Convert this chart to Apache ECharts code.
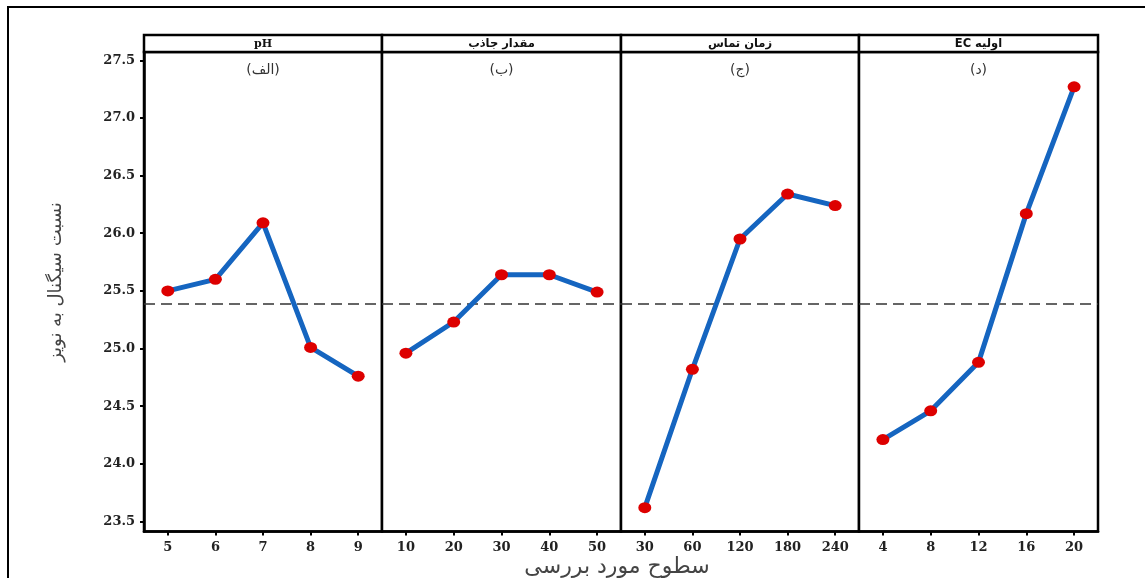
<!DOCTYPE html>
<html><head><meta charset="utf-8">
<script src="https://cdn.jsdelivr.net/npm/echarts@6/dist/echarts.min.js"></script>
<style>html,body{margin:0;padding:0;background:#fff}#c{width:1145px;height:578px}</style>
</head><body><div id="c"></div>
<script>
// ---- data ----
const phLevels = ['5','6','7','8','9'];
const adsorbentLevels = ['10','20','30','40','50'];
const timeLevels = ['30','60','120','180','240'];
const ecLevels = ['4','8','12','16','20'];
const phSN = [25.50, 25.60, 26.09, 25.01, 24.76];
const adsorbentSN = [24.96, 25.23, 25.64, 25.64, 25.49];
const timeSN = [23.62, 24.82, 25.95, 26.34, 26.24];
const ecSN = [24.21, 24.46, 24.88, 26.17, 27.27];
const yTicks = [23.5, 24.0, 24.5, 25.0, 25.5, 26.0, 26.5, 27.0, 27.5];
const stripTitles = ['pH', 'مقدار جاذب', 'زمان تماس', 'EC اولیه'];
const panelLetters = ['(الف)', '(ب)', '(ج)', '(د)'];
const yTitle = 'نسبت سیگنال به نویز';
const xTitle = 'سطوح مورد بررسی';

// ---- layout ----
const edges = [144, 382, 621, 859, 1098];
const gridTop = 52, gridBottomPx = 531.5, stripTop = 35;
const yMin = 23.413, yMax = 27.572;

const levelsList = [phLevels, adsorbentLevels, timeLevels, ecLevels];
const valuesList = [phSN, adsorbentSN, timeSN, ecSN];
const all = [].concat(...valuesList);
const grandMean = all.reduce((a, b) => a + b, 0) / all.length;

const serif = 'DejaVu Serif';
const arab = 'DejaVu Sans';

const grids = [], xAxes = [], yAxes = [], series = [], graphics = [];

graphics.push({type:'rect', shape:{x:8, y:7, width:1200, height:700},
  style:{fill:'none', stroke:'#000', lineWidth:2}, z:0});

for (let i = 0; i < 4; i++) {
  const left = edges[i], w = edges[i+1] - edges[i];
  grids.push({left:left, top:gridTop, width:w, height:gridBottomPx - gridTop,
    show:true, borderColor:'#000', borderWidth:2.5, backgroundColor:'#fff'});
  xAxes.push({type:'category', gridIndex:i, data:levelsList[i], boundaryGap:true,
    axisLine:{show:true, lineStyle:{color:'#000', width:2.5}},
    axisTick:{show:true, alignWithLabel:true, length:4, lineStyle:{color:'#000', width:2}},
    axisLabel:{color:'#222', fontFamily:serif, fontWeight:'bold', fontSize:13, margin:10},
    splitLine:{show:false}});
  yAxes.push({type:'value', gridIndex:i, min:yMin, max:yMax,
    axisLine:{show:i===0, lineStyle:{color:'#000', width:2.5}},
    axisTick:{show:i===0, length:4, lineStyle:{color:'#000', width:2}, customValues:yTicks},
    axisLabel:{show:i===0, customValues:yTicks, formatter:v => Number(v).toFixed(1),
      color:'#222', fontFamily:serif, fontWeight:'bold', fontSize:13, margin:9},
    splitLine:{show:false}});
  series.push({type:'line', xAxisIndex:i, yAxisIndex:i, data:valuesList[i],
    symbol:'circle', symbolSize:[13,11],
    lineStyle:{color:'#1565C0', width:5},
    itemStyle:{color:'#DD0000', borderWidth:0},
    z:3,
    markLine:{silent:true, symbol:'none', label:{show:false},
      lineStyle:{color:'#333', type:[11,6], width:1.5},
      data:[{yAxis:grandMean}], z:2}});
  graphics.push({type:'rect', shape:{x:left, y:stripTop, width:w, height:gridTop - stripTop},
    style:{fill:'#fff', stroke:'#000', lineWidth:2.5}, z:10});
  graphics.push({type:'text', x:left + w/2, y:(stripTop + gridTop)/2 + 0.5, z:11,
    style:{text:stripTitles[i], fill:'#111', align:'center', verticalAlign:'middle',
      font:(i===0 ? 'bold 11px "' + serif + '"' : 'bold 11.5px "' + arab + '"')}});
  graphics.push({type:'text', x:left + w/2, y:70, z:11,
    style:{text:panelLetters[i], fill:'#333', align:'center', verticalAlign:'middle',
      font:'14px "' + arab + '"'}});
}

graphics.push({type:'text', x:56, y:282, rotation:Math.PI/2, z:11,
  style:{text:yTitle, fill:'#444', align:'center', verticalAlign:'middle', font:'18px "' + arab + '"'}});
graphics.push({type:'text', x:617, y:567, z:11,
  style:{text:xTitle, fill:'#444', align:'center', verticalAlign:'middle', font:'22px "' + arab + '"'}});

const chart = echarts.init(document.getElementById('c'), null, {renderer:'canvas'});
chart.setOption({
  animation:false,
  backgroundColor:'#fff',
  grid:grids, xAxis:xAxes, yAxis:yAxes, series:series,
  graphic:{elements:graphics}
});
</script>
</body></html>
